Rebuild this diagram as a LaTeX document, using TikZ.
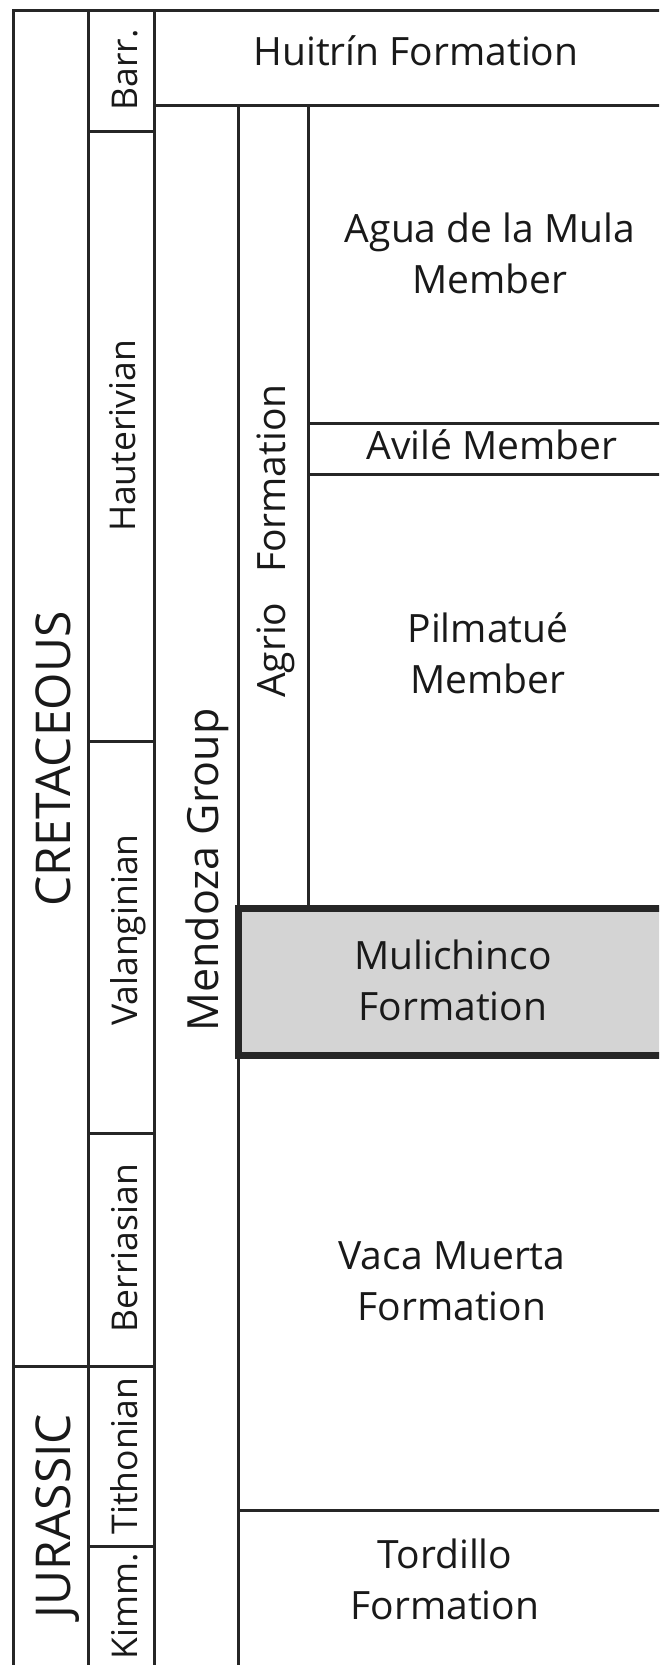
\documentclass[tikz,border=0pt]{standalone}
\usepackage{fontspec}
\setmainfont{Open Sans}
\begin{document}
\begin{tikzpicture}[x=1pt,y=-1pt,
  rule/.style={line width=3pt, black!85},
  heavy/.style={line width=7pt, black!85, fill=black!17},
  lbl/.style={font=\fontsize{39}{51}\selectfont, anchor=base, inner sep=0pt, align=center, text=black!90},
  vlbl/.style={font=\fontsize{35.5}{40}\selectfont, anchor=base, rotate=90, inner sep=0pt, text=black!90},
  biglbl/.style={font=\fontsize{48}{50}\selectfont, anchor=base, rotate=90, inner sep=0pt, text=black!90}]
\useasboundingbox (0,0) rectangle (659,1665);
\begin{scope}
\clip (0,0) rectangle (659,1665);
% frame and columns
\draw[rule] (13.5,1680) -- (13.5,10) -- (680,10);
\draw[rule] (88,10) -- (88,1680);
\draw[rule] (154,10) -- (154,1680);
\draw[rule] (154,105) -- (680,105);
\draw[rule] (88,131) -- (154,131);
\draw[rule] (88,741) -- (154,741);
\draw[rule] (88,1133) -- (154,1133);
\draw[rule] (13.5,1366) -- (154,1366);
\draw[rule] (88,1546) -- (154,1546);
\draw[rule] (238,105) -- (238,1680);
\draw[rule] (308,105) -- (308,908);
\draw[rule] (308,423) -- (680,423);
\draw[rule] (308,474) -- (680,474);
\draw[rule] (238,1510) -- (680,1510);
\draw[heavy] (238,908) rectangle (690,1055);
\end{scope}
% labels (base anchor = baseline of the last line)
\node[lbl] (huitrin) at (416,65) {Huitrín Formation};
\node[lbl] (agua) at (490,293) {Agua de la Mula\\Member};
\node[lbl] (avile) at (492,459) {Avilé Member};
\node[lbl] (pilmatue) at (488,693) {Pilmatué\\Member};
\node[lbl] (mulichinco) at (453,1020) {Mulichinco\\Formation};
\node[lbl] (vaca) at (452,1320) {Vaca Muerta\\Formation};
\node[lbl] (tordillo) at (445,1619) {Tordillo\\Formation};
\node[vlbl] (barr) at (137,70) {Barr.};
\node[vlbl] (haut) at (135,436) {Hauterivian};
\node[vlbl] (valang) at (137,930) {Valanginian};
\node[vlbl] (berr) at (137,1248) {Berriasian};
\node[vlbl] (tith) at (137,1456) {Tithonian};
\node[vlbl] (kimm) at (137,1606) {Kimm.};
\node[biglbl] (cret) at (70,759) {CRETACEOUS};
\node[biglbl] (jur) at (70,1516) {JURASSIC};
\node[biglbl, font=\fontsize{43}{45}\selectfont] (mendoza) at (218,870) {Mendoza Group};
\node[vlbl, font=\fontsize{39}{40}\selectfont] (agrio) at (285,541) {Agrio\hspace{0.5em} Formation};
\end{tikzpicture}
\end{document}
